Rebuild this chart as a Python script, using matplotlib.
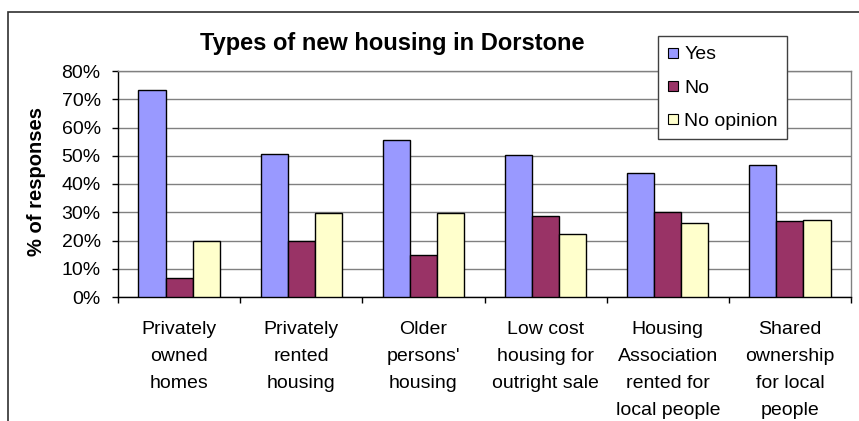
import numpy as np
import matplotlib
matplotlib.use("Agg")
import matplotlib.pyplot as plt
from matplotlib.lines import Line2D
from matplotlib.patches import Rectangle

# --- data ---
categories = [
    "Privately\nowned\nhomes",
    "Privately\nrented\nhousing",
    "Older\npersons'\nhousing",
    "Low cost\nhousing for\noutright sale",
    "Housing\nAssociation\nrented for\nlocal people",
    "Shared\nownership\nfor local\npeople",
]
yes_vals = [73.4, 50.6, 55.7, 50.1, 43.9, 46.7]
no_vals = [6.8, 20.0, 14.8, 28.5, 30.1, 26.8]
noop_vals = [20.0, 29.7, 29.7, 22.3, 26.1, 27.3]
series_names = ["Yes", "No", "No opinion"]
y_ticks = [0, 10, 20, 30, 40, 50, 60, 70, 80]

colors = ["#9999FF", "#993366", "#FFFFCC"]

plt.rcParams["font.family"] = ["Liberation Sans", "DejaVu Sans"]

W, H = 859, 421
fig = plt.figure(figsize=(W / 100, H / 100), dpi=100)
ax = fig.add_axes([118 / W, 1 - 297 / H, (851 - 118) / W, (297 - 71) / H])

x = np.arange(len(categories))
bw = 1 / 4.5
for i, (vals, c) in enumerate(zip([yes_vals, no_vals, noop_vals], colors)):
    ax.bar(x + (i - 1) * bw, vals, width=bw, color=c, edgecolor="black",
           linewidth=1.0, zorder=3)

ax.set_xlim(-0.5, len(categories) - 0.5)
ax.set_ylim(0, 80)
ax.set_yticks(y_ticks)
ax.set_yticklabels([f"{v}%" for v in y_ticks])
ax.yaxis.grid(True, color="#808080", linewidth=1.0, zorder=0)

ax.set_xticks(x)
ax.set_xticklabels(categories, linespacing=1.78)
ax.set_xticks(np.arange(len(categories) + 1) - 0.5, minor=True)
ax.tick_params(axis="x", which="major", length=0, pad=17, labelsize=14)
ax.tick_params(axis="x", which="minor", length=4.5, width=1.0, direction="out")
ax.tick_params(axis="y", length=4.5, width=1.0, direction="out", pad=8, labelsize=14)

for s in ["left", "bottom"]:
    ax.spines[s].set_color("black")
    ax.spines[s].set_linewidth(1.0)
for s in ["top", "right"]:
    ax.spines[s].set_color("#808080")
    ax.spines[s].set_linewidth(1.0)

fig.text(392 / W, 1 - 50 / H, "Types of new housing in Dorstone",
         ha="center", va="baseline", fontsize=17, fontweight="bold")
fig.text(37 / W, 1 - 182 / H, "% of responses", rotation=90,
         ha="center", va="center", fontsize=14.5, fontweight="bold")

handles = [Line2D([], [], marker="s", linestyle="none", markersize=6.5,
                  markerfacecolor=c, markeredgecolor="black", markeredgewidth=0.8)
           for c in colors]
leg = ax.legend(handles, series_names, loc="upper left",
                bbox_to_anchor=(658 / W, 1 - 36 / H), bbox_transform=fig.transFigure,
                fontsize=14, frameon=True, fancybox=False, framealpha=1,
                edgecolor="#404040", handlelength=0.5, handletextpad=0.35,
                labelspacing=0.8, borderpad=0.5, borderaxespad=0)
leg.get_frame().set_linewidth(1.0)
leg.set_zorder(10)

# outer chart frame (cut off at right and bottom)
fig.patches.append(Rectangle((8 / W, -0.2), 1.2, (1 - 12 / H) + 0.2,
                             transform=fig.transFigure, fill=False,
                             edgecolor="#303030", linewidth=1.2))

fig.savefig("out.png", dpi=100)
